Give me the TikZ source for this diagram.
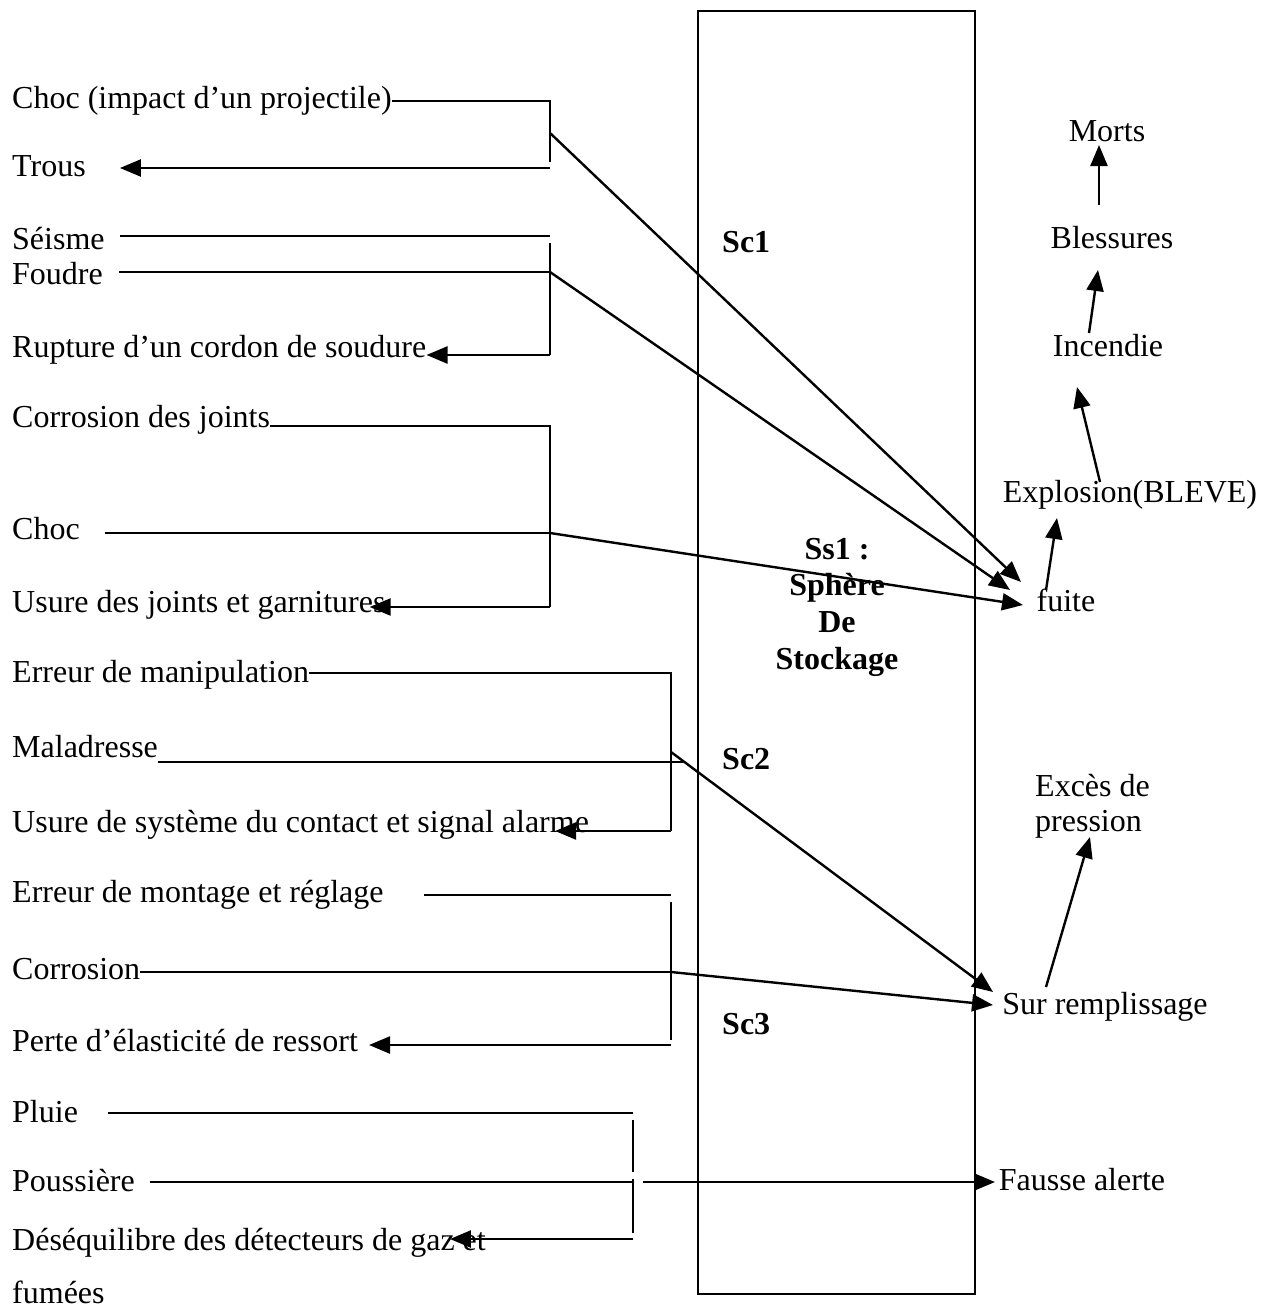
\documentclass[tikz,border=0pt]{standalone}
\usepackage{fontspec}
\setmainfont{Liberation Serif}
\usetikzlibrary{arrows.meta,positioning}

\begin{document}
\begin{tikzpicture}[x=1pt,y=-1pt,>={Triangle[length=21pt,width=17pt]},
  txt/.style={anchor=base west,inner sep=0pt,font=\fontsize{32}{36}\selectfont},
  eff/.style={anchor=base,inner sep=0pt,font=\fontsize{32}{36}\selectfont},
  zone/.style={anchor=base west,inner sep=0pt,font=\fontsize{32}{36}\selectfont\bfseries},
  ln/.style={line width=1.7pt},
  arr/.style={->,line width=2.4pt}]
  \useasboundingbox (0,0) rectangle (1271,1311);
  % storage sphere
  \node[draw,line width=1.6pt,anchor=north west,inner sep=0pt,
        minimum width=277pt,minimum height=1283pt] (box) at (697,10) {};
  \node[zone] (sc1) at (722,252) {Sc1};
  \node[zone] (sc2) at (722,769) {Sc2};
  \node[zone] (sc3) at (722,1034) {Sc3};
  \node[inner sep=0pt,align=center,font=\fontsize{32}{36.7}\selectfont\bfseries]
       (ss1) at (837,607) {Ss1 :\\Sphère\\De\\Stockage};

  % causes
  \node[txt] (chocp)   at (12,109)  {Choc (impact d’un projectile)};
  \node[txt] (trous)   at (12,176)  {Trous};
  \node[txt] (seisme)  at (12,249)  {Séisme};
  \node[txt] (foudre)  at (12,284)  {Foudre};
  \node[txt] (rupture) at (12,357)  {Rupture d’un cordon de soudure};
  \node[txt] (corrj)   at (12,427)  {Corrosion des joints};
  \node[txt] (choc)    at (12,539)  {Choc};
  \node[txt] (usurej)  at (12,612)  {Usure des joints et garnitures};
  \node[txt] (erreurm) at (12,682)  {Erreur de manipulation};
  \node[txt] (malad)   at (12,757)  {Maladresse};
  \node[txt] (usures)  at (12,832)  {Usure de système du contact et signal alarme};
  \node[txt] (erreurr) at (12,902)  {Erreur de montage et réglage};
  \node[txt] (corr)    at (12,979)  {Corrosion};
  \node[txt] (perte)   at (12,1051) {Perte d’élasticité de ressort};
  \node[txt] (pluie)   at (12,1122) {Pluie};
  \node[txt] (pouss)   at (12,1191) {Poussière};
  \node[txt] (deseq)   at (12,1250) {Déséquilibre des détecteurs de gaz et};
  \node[txt] (fumees)  at (12,1303) {fumées};

  % effects
  \node[eff] (morts)     at (1107,141)  {Morts};
  \node[eff] (blessures) at (1112,248)  {Blessures};
  \node[eff] (incendie)  at (1108,356)  {Incendie};
  \node[eff] (explo)     at (1130,502)  {Explosion(BLEVE)};
  \node[eff] (fuite)     at (1066,611)  {fuite};
  \node[anchor=west,inner sep=0pt,align=left,font=\fontsize{32}{35}\selectfont]
       (exces) at (1035,806) {Excès de\\pression};
  \node[eff] (sur)       at (1105,1014) {Sur remplissage};
  \node[eff] (fausse)    at (1082,1190) {Fausse alerte};

  % junctions
  \coordinate (g1a) at (550,101);  \coordinate (g1b) at (550,162);
  \coordinate (g1c) at (550,168);  \coordinate (g1d) at (550,133);
  \coordinate (g2a) at (550,236);  \coordinate (g2b) at (550,272);
  \coordinate (g2c) at (550,243);  \coordinate (g2d) at (550,355);
  \coordinate (g3a) at (550,426);  \coordinate (g3b) at (550,533);
  \coordinate (g3c) at (550,607);
  \coordinate (g4a) at (671,673);  \coordinate (g4b) at (683,762);
  \coordinate (g4c) at (671,831);  \coordinate (g4d) at (671,752);
  \coordinate (g5a) at (671,895);  \coordinate (g5b) at (671,902);
  \coordinate (g5c) at (671,972);  \coordinate (g5d) at (671,1040);
  \coordinate (g5e) at (671,1045);
  \coordinate (g6a) at (633,1113); \coordinate (g6b) at (633,1120);
  \coordinate (g6c) at (633,1172); \coordinate (g6d) at (633,1179);
  \coordinate (g6e) at (633,1182); \coordinate (g6f) at (643,1182);
  \coordinate (g6g) at (633,1233); \coordinate (g6h) at (633,1239);

  % first group
  \draw[ln] (chocp.east |- g1a) -- (g1a) -- (g1b);
  \draw[arr,shorten >=34pt] (g1c) -- (trous.east |- g1c);
  \draw[ln,shorten <=15pt] (seisme.east |- g2a) -- (g2a);
  \draw[ln,shorten <=16pt] (foudre.east |- g2b) -- (g2b);
  \draw[ln] (g2c) -- (g2d);
  \draw[arr] (g2d) -- (rupture.east |- g2d);
  \draw[ln] (corrj.east |- g3a) -- (g3a) -- (g3c);
  \draw[ln,shorten <=25pt] (choc.east |- g3b) -- (g3b);
  \draw[arr,shorten >=-16pt] (g3c) -- (usurej.east |- g3c);
  \draw[arr] (g1d) -- ([shift={(-45,-29)}]fuite.base);
  \draw[arr] (g2b) -- ([shift={(-56,-21)}]fuite.base);
  \draw[arr] (g3b) -- ([shift={(-43,-6)}]fuite.base);

  % second group
  \draw[ln] (erreurm.east |- g4a) -- (g4a) -- (g4c);
  \draw[ln] (malad.east |- g4b) -- (g4b);
  \draw[arr,shorten >=-34pt] (g4c) -- (usures.east |- g4c);
  \draw[arr] (g4d) -- ([shift={(-112,-22)}]sur.base);
  \draw[ln,shorten <=40pt] (erreurr.east |- g5a) -- (g5a);
  \draw[ln] (g5b) -- (g5d);
  \draw[ln] (corr.east |- g5c) -- (g5c);
  \draw[arr,shorten >=11pt] (g5e) -- (perte.east |- g5e);
  \draw[arr] (g5c) -- ([shift={(-112,-9)}]sur.base);

  % third group
  \draw[ln,shorten <=30pt] (pluie.east |- g6a) -- (g6a);
  \draw[ln] (g6b) -- (g6c) (g6d) -- (g6g);
  \draw[ln,shorten <=15pt] (pouss.east |- g6e) -- (g6e);
  \draw[arr,shorten >=-36pt] (g6h) -- (deseq.east |- g6h);
  \draw[arr] (g6f) -- ([shift={(-87,-8)}]fausse.base);

  % consequences
  \draw[arr] ([shift={(-20,-21)}]fuite.base) -- ([shift={(-73,16)}]explo.base);
  \draw[arr] ([shift={(-30,-20)}]explo.base) -- ([shift={(-31,31)}]incendie.base);
  \draw[arr] ([shift={(-19,-23)}]incendie.base) -- ([shift={(-14,22)}]blessures.base);
  \draw[arr] ([shift={(-13,-43)}]blessures.base) -- ([shift={(-8,4)}]morts.base);
  \draw[arr] ([shift={(-59,-27)}]sur.base) -- ([shift={(55,31)}]exces.west);
\end{tikzpicture}
\end{document}
